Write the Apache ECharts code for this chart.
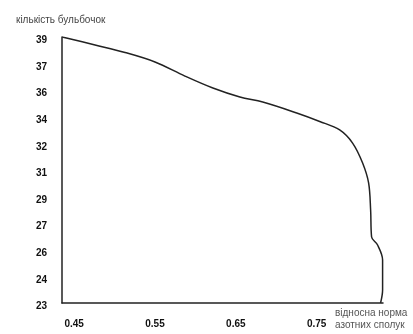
<!DOCTYPE html>
<html>
<head>
<meta charset="utf-8">
<script src="https://cdn.jsdelivr.net/npm/echarts@6/dist/echarts.min.js"></script>
<style>html,body{margin:0;padding:0;background:#fff}#c{width:413px;height:334px}</style>
</head>
<body>
<div id="c"></div>
<script>
// Curve points: relative norm of nitrogen compounds (x) vs. number of nodules (y)
var xValues = [0.4352, 0.4759, 0.513, 0.55, 0.587, 0.6216, 0.655, 0.6833, 0.7253, 0.7537, 0.7784, 0.7944, 0.8068, 0.8142, 0.8167, 0.8179, 0.8253, 0.8315, 0.8315, 0.8315, 0.829];
var yValues = [39.0, 38.52, 38.07, 37.5, 36.65, 35.93, 35.39, 35.09, 34.43, 33.92, 33.41, 32.62, 31.42, 30.22, 28.59, 26.97, 26.49, 25.59, 24.57, 23.78, 23.0];
var xTickValues = [0.45, 0.55, 0.65, 0.75];
var xTickLabels = ['0.45', '0.55', '0.65', '0.75'];
var yTickLabels = ['23', '24', '26', '27', '29', '31', '32', '34', '36', '37', '39'];
var yName = 'кількість бульбочок';
var xName = 'відносна норма\nазотних сполук';

var points = xValues.map(function (x, i) { return [x, yValues[i]]; });
var chart = echarts.init(document.getElementById('c'));
chart.setOption({
  animation: false,
  backgroundColor: '#fff',
  title: {
    text: yName, left: 11, top: 10,
    textStyle: { fontFamily: 'Liberation Sans, Arial, sans-serif', fontSize: 10, fontWeight: 'normal', color: '#444' }
  },
  grid: { left: 62, top: 37, right: 30, bottom: 31 },
  xAxis: {
    type: 'value', min: 0.435, max: 0.832,
    name: xName, nameLocation: 'end', nameGap: -48,
    nameTextStyle: { fontFamily: 'Liberation Sans, Arial, sans-serif', fontSize: 10, color: '#555', align: 'left', verticalAlign: 'top', lineHeight: 12, padding: [4, 0, 0, 0] },
    axisLine: { show: true, lineStyle: { color: '#222', width: 1.5 } },
    axisTick: { show: false },
    splitLine: { show: false },
    axisLabel: {
      customValues: xTickValues, margin: 16,
      fontFamily: 'Liberation Sans, Arial, sans-serif', fontSize: 10, fontWeight: 'bold', color: '#111',
      formatter: function (v) {
        for (var i = 0; i < xTickValues.length; i++) if (Math.abs(xTickValues[i] - v) < 1e-6) return xTickLabels[i];
        return '';
      }
    }
  },
  yAxis: {
    type: 'value', min: 23, max: 39, interval: 1.6,
    axisLine: { show: true, lineStyle: { color: '#222', width: 1.5 } },
    axisTick: { show: false },
    splitLine: { show: false },
    axisLabel: {
      margin: 15,
      fontFamily: 'Liberation Sans, Arial, sans-serif', fontSize: 10, fontWeight: 'bold', color: '#111',
      rich: { t: { fontFamily: 'Liberation Sans, Arial, sans-serif', fontSize: 10, fontWeight: 'bold', color: '#111', padding: [7, 0, 0, 0] } },
      formatter: function (v) {
        var s = yTickLabels[Math.round((v - 23) / 1.6)];
        return s ? '{t|' + s + '}' : '';
      }
    }
  },
  series: [{
    type: 'line', data: points, smooth: 0.35, symbol: 'none',
    lineStyle: { color: '#222', width: 1.5 }
  }]
});
</script>
</body>
</html>
